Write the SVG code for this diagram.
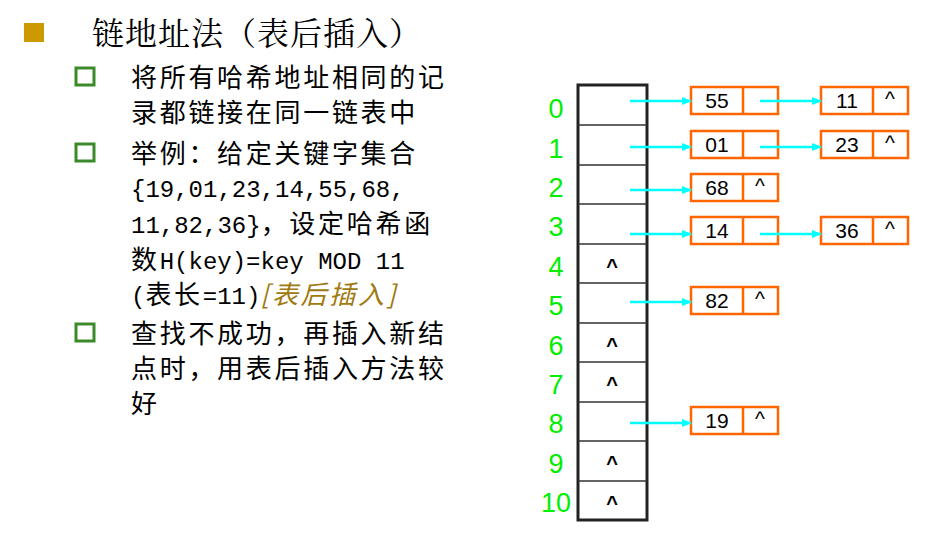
<svg xmlns="http://www.w3.org/2000/svg" width="929" height="547" viewBox="0 0 929 547">
<style>
.t{font-family:"Noto Sans CJK SC",sans-serif;font-size:26px;letter-spacing:2.7px;fill:#000}
.m{font-family:"Liberation Mono","Noto Sans CJK SC",monospace;font-size:24px;letter-spacing:0}
.lb{font-family:"Liberation Sans",sans-serif;font-size:27px;fill:#00ee00;text-anchor:middle}
.n{fill:#fff;stroke:#ff6600;stroke-width:2.5}
.v{font-family:"Liberation Sans",sans-serif;font-size:21px;text-anchor:middle;fill:#000}
.c{stroke:#00ffff;stroke-width:2.5;marker-end:url(#a)}
.gb{fill:none;stroke:#3a8a2a;stroke-width:3}
</style>
<defs><marker id="a" markerWidth="10" markerHeight="8" refX="9" refY="4" orient="auto" markerUnits="userSpaceOnUse"><path d="M0,0L10,4L0,8z" fill="#00ffff"/></marker></defs>
<rect width="929" height="547" fill="#fff"/>
<g id="text">
<rect x="24" y="23" width="20" height="19" fill="#cc9900"/>
<text x="92" y="45" style="font-family:'Noto Serif CJK SC','Noto Sans CJK SC',serif;font-size:32px;letter-spacing:1px">链地址法（表后插入）</text>
<rect x="76" y="68" width="18" height="17" class="gb"/>
<rect x="76" y="144" width="18" height="17" class="gb"/>
<rect x="76" y="324" width="18" height="17" class="gb"/>
<text class="t" x="131" y="87">将所有哈希地址相同的记</text>
<text class="t" x="131" y="122">录都链接在同一链表中</text>
<text class="t" x="131" y="163">举例：给定关键字集合</text>
<text class="m" x="131" y="197">{19,01,23,14,55,68,</text>
<text class="t" x="131" y="233"><tspan class="m">11,82,36}</tspan>，设定哈希函</text>
<text class="t" x="131" y="269">数<tspan class="m">H(key)=key MOD 11</tspan></text>
<text class="t" x="131" y="304"><tspan class="m">(</tspan>表长<tspan class="m">=11)</tspan><tspan fill="#a07a10" font-style="italic">[表后插入]</tspan></text>
<text class="t" x="131" y="343">查找不成功，再插入新结</text>
<text class="t" x="131" y="378">点时，用表后插入方法较</text>
<text class="t" x="131" y="413">好</text>
</g>
<g id="table">
<rect x="578" y="85" width="69" height="435" fill="#fff" stroke="#222" stroke-width="3"/>
<path d="M578 125H647M578 165H647M578 204H647M578 244H647M578 283H647M578 323H647M578 362H647M578 402H647M578 441H647M578 481H647" stroke="#333" stroke-width="1.5"/>
<g font-family="Liberation Sans,sans-serif" font-size="20" font-weight="bold" text-anchor="middle">
<text x="612" y="273">^</text><text x="612" y="352">^</text><text x="612" y="391">^</text><text x="612" y="470">^</text><text x="612" y="510">^</text>
</g>
<text class="lb" x="556" y="118">0</text><text class="lb" x="556" y="158">1</text><text class="lb" x="556" y="197">2</text><text class="lb" x="556" y="236">3</text><text class="lb" x="556" y="276">4</text><text class="lb" x="556" y="315">5</text><text class="lb" x="556" y="355">6</text><text class="lb" x="556" y="394">7</text><text class="lb" x="556" y="433">8</text><text class="lb" x="556" y="473">9</text><text class="lb" x="556" y="512">10</text>
</g>
<g id="n55"><rect class="n" x="691" y="87" width="87" height="27"/><line x1="743" y1="87" x2="743" y2="114" stroke="#ff6600" stroke-width="2.5"/><text class="v" x="717" y="108">55</text></g>
<g id="n11"><rect class="n" x="821" y="87" width="87" height="27"/><line x1="873" y1="87" x2="873" y2="114" stroke="#ff6600" stroke-width="2.5"/><text class="v" x="847" y="108">11</text><text class="v" x="890" y="106">^</text></g>
<g id="n01"><rect class="n" x="691" y="131" width="87" height="27"/><line x1="743" y1="131" x2="743" y2="158" stroke="#ff6600" stroke-width="2.5"/><text class="v" x="717" y="152">01</text></g>
<g id="n23"><rect class="n" x="821" y="131" width="87" height="27"/><line x1="873" y1="131" x2="873" y2="158" stroke="#ff6600" stroke-width="2.5"/><text class="v" x="847" y="152">23</text><text class="v" x="890" y="150">^</text></g>
<g id="n68"><rect class="n" x="691" y="174" width="87" height="27"/><line x1="743" y1="174" x2="743" y2="201" stroke="#ff6600" stroke-width="2.5"/><text class="v" x="717" y="195">68</text><text class="v" x="760" y="193">^</text></g>
<g id="n14"><rect class="n" x="691" y="217" width="87" height="27"/><line x1="743" y1="217" x2="743" y2="244" stroke="#ff6600" stroke-width="2.5"/><text class="v" x="717" y="238">14</text></g>
<g id="n36"><rect class="n" x="821" y="217" width="87" height="27"/><line x1="873" y1="217" x2="873" y2="244" stroke="#ff6600" stroke-width="2.5"/><text class="v" x="847" y="238">36</text><text class="v" x="890" y="236">^</text></g>
<g id="n82"><rect class="n" x="691" y="287" width="87" height="27"/><line x1="743" y1="287" x2="743" y2="314" stroke="#ff6600" stroke-width="2.5"/><text class="v" x="717" y="308">82</text><text class="v" x="760" y="306">^</text></g>
<g id="n19"><rect class="n" x="691" y="407" width="87" height="27"/><line x1="743" y1="407" x2="743" y2="434" stroke="#ff6600" stroke-width="2.5"/><text class="v" x="717" y="428">19</text><text class="v" x="760" y="426">^</text></g>
<g id="connectors">
<line class="c" x1="630" y1="101" x2="691" y2="101"/>
<line class="c" x1="760" y1="101" x2="821" y2="101"/>
<line class="c" x1="630" y1="147" x2="691" y2="147"/>
<line class="c" x1="760" y1="147" x2="821" y2="147"/>
<line class="c" x1="630" y1="190" x2="691" y2="190"/>
<line class="c" x1="630" y1="234" x2="691" y2="234"/>
<line class="c" x1="760" y1="234" x2="821" y2="234"/>
<line class="c" x1="630" y1="302" x2="691" y2="302"/>
<line class="c" x1="630" y1="423" x2="691" y2="423"/>
</g>
</svg>
